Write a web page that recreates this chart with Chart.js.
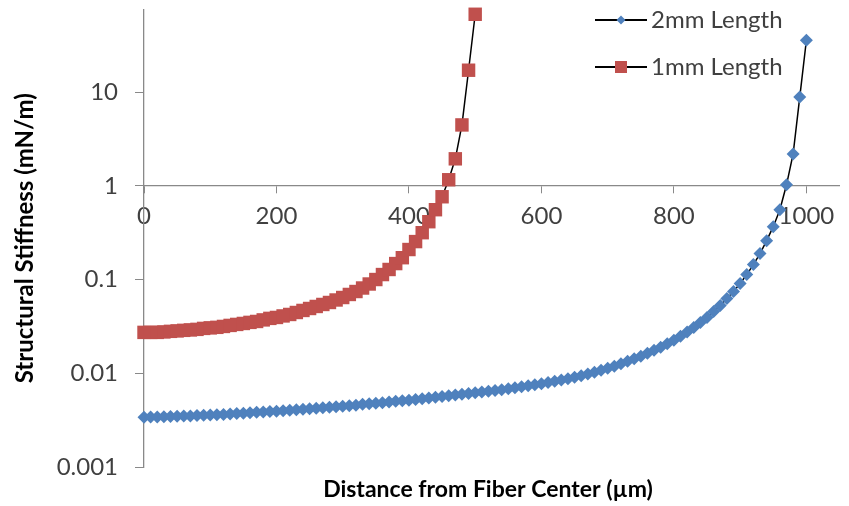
<!DOCTYPE html>
<html>
<head>
<meta charset="utf-8">
<script src="https://cdn.jsdelivr.net/npm/chart.js@4.4.0/dist/chart.umd.min.js"></script>
<style>
  html, body { margin: 0; padding: 0; background: #fff; }
  canvas { display: block; }
</style>
</head>
<body>
<canvas id="stiffnessChart" width="849" height="506"></canvas>
<script>
// Distances from fiber center (um)
const distance2mm = [
  0, 10, 20, 30, 40, 50, 60, 70, 80, 90,
  100, 110, 120, 130, 140, 150, 160, 170, 180, 190,
  200, 210, 220, 230, 240, 250, 260, 270, 280, 290,
  300, 310, 320, 330, 340, 350, 360, 370, 380, 390,
  400, 410, 420, 430, 440, 450, 460, 470, 480, 490,
  500, 510, 520, 530, 540, 550, 560, 570, 580, 590,
  600, 610, 620, 630, 640, 650, 660, 670, 680, 690,
  700, 710, 720, 730, 740, 750, 760, 770, 780, 790,
  800, 810, 820, 830, 840, 850, 860, 870, 880, 890,
  900, 910, 920, 930, 940, 950, 960, 970, 980, 990, 1000
];
const distance1mm = [
  0, 10, 20, 30, 40, 50, 60, 70, 80, 90,
  100, 110, 120, 130, 140, 150, 160, 170, 180, 190,
  200, 210, 220, 230, 240, 250, 260, 270, 280, 290,
  300, 310, 320, 330, 340, 350, 360, 370, 380, 390,
  400, 410, 420, 430, 440, 450, 460, 470, 480, 490, 500
];

// Structural stiffness (mN/m)
const stiffness2mm = [
  0.00340, 0.00341, 0.00342, 0.00344, 0.00345, 0.00347, 0.00349, 0.00351, 0.00354, 0.00356,
  0.00359, 0.00362, 0.00364, 0.00368, 0.00372, 0.00375, 0.00379, 0.00383, 0.00386, 0.00390,
  0.00394, 0.00399, 0.00404, 0.00409, 0.00414, 0.00419, 0.00424, 0.00429, 0.00435, 0.00440,
  0.00445, 0.00451, 0.00457, 0.00466, 0.00474, 0.00479, 0.00485, 0.00495, 0.00504, 0.00510,
  0.00516, 0.00526, 0.00535, 0.00546, 0.00555, 0.00566, 0.00576, 0.00588, 0.00598, 0.00610,
  0.00620, 0.00632, 0.00643, 0.00656, 0.00667, 0.00684, 0.00701, 0.00718, 0.00736, 0.00754,
  0.00773, 0.00798, 0.00822, 0.00846, 0.00874, 0.00906, 0.00941, 0.00981, 0.01025, 0.01076,
  0.01130, 0.01187, 0.01262, 0.01341, 0.01426, 0.01517, 0.01632, 0.01757, 0.01890, 0.02060,
  0.02244, 0.02475, 0.02764, 0.03086, 0.03486, 0.03941, 0.04565, 0.05288, 0.06279, 0.07455,
  0.0907, 0.1130, 0.1444, 0.1890, 0.2600, 0.3664, 0.5554, 1.025, 2.190, 8.849, 35.74
];
const stiffness1mm = [
  0.0273, 0.0273, 0.0273, 0.0276, 0.0280, 0.0283, 0.0287, 0.0290, 0.0294, 0.0301,
  0.0305, 0.0309, 0.0316, 0.0324, 0.0332, 0.0340, 0.0349, 0.0357, 0.0371, 0.0385,
  0.0394, 0.0409, 0.0424, 0.0445, 0.0468, 0.0491, 0.0516, 0.0542, 0.0569, 0.0605,
  0.0643, 0.0693, 0.0745, 0.0812, 0.0896, 0.100, 0.113, 0.128, 0.148, 0.171,
  0.209, 0.254, 0.316, 0.414, 0.556, 0.764, 1.16, 1.94, 4.46, 17.1, 67.6
];

const seriesNames = ['2mm Length', '1mm Length'];
const xTicks = [0, 200, 400, 600, 800, 1000];
const xTickLabels = ['0', '200', '400', '600', '800', '1000'];
const yTicks = [0.001, 0.01, 0.1, 1, 10];
const yTickLabels = ['0.001', '0.01', '0.1', '1', '10'];
const xTitle = 'Distance from Fiber Center (\u00b5m)';
const yTitle = 'Structural Stiffness (mN/m)';

const BLUE = '#4F81BD';
const RED = '#C0504D';
const AXIS = '#898989';
const LABEL = '#404040';

Chart.defaults.font.family = 'Lato, "Open Sans", sans-serif';

function toPoints(xs, ys) {
  return xs.map((x, i) => ({ x: x, y: ys[i] }));
}

// legend (line + marker like Excel) and x axis title
const excelExtras = {
  id: 'excelExtras',
  afterDraw(chart) {
    const ctx = chart.ctx;
    ctx.save();
    ctx.fillStyle = '#000';
    ctx.font = 'bold 23px Lato, sans-serif';
    ctx.textAlign = 'center';
    ctx.textBaseline = 'alphabetic';
    ctx.fillText(xTitle, 488, 497);

    chart.data.datasets.forEach((ds, i) => {
      const y = 20 + i * 47;
      ctx.strokeStyle = '#000';
      ctx.lineWidth = 2;
      ctx.beginPath();
      ctx.moveTo(595, y);
      ctx.lineTo(647, y);
      ctx.stroke();
      ctx.fillStyle = ds.backgroundColor;
      ctx.beginPath();
      if (ds.pointStyle === 'rectRot') {
        ctx.moveTo(621, y - 4.5);
        ctx.lineTo(625.5, y);
        ctx.lineTo(621, y + 4.5);
        ctx.lineTo(616.5, y);
        ctx.closePath();
      } else {
        ctx.rect(615, y - 6, 12, 12);
      }
      ctx.fill();
      ctx.fillStyle = LABEL;
      ctx.font = '24px Lato, sans-serif';
      ctx.textAlign = 'left';
      ctx.textBaseline = 'middle';
      ctx.fillText(ds.label, 651, y);
    });
    ctx.restore();
  }
};

const ctx = document.getElementById('stiffnessChart').getContext('2d');
const stiffnessChart = new Chart(ctx, {
  type: 'line',
  data: {
    datasets: [{
      label: seriesNames[0],
      data: toPoints(distance2mm, stiffness2mm),
      borderColor: '#000',
      borderWidth: 1.5,
      backgroundColor: BLUE,
      pointStyle: 'rectRot',
      pointRadius: 6.5,
      pointBorderWidth: 0,
      pointBackgroundColor: BLUE,
      tension: 0,
      clip: false
    }, {
      label: seriesNames[1],
      data: toPoints(distance1mm, stiffness1mm),
      borderColor: '#000',
      borderWidth: 1.5,
      backgroundColor: RED,
      pointStyle: 'rect',
      pointRadius: 9.5,
      pointBorderWidth: 0,
      pointBackgroundColor: RED,
      tension: 0,
      clip: false
    }]
  },
  options: {
    responsive: false,
    animation: false,
    layout: {
      padding: { top: 8, bottom: 39, left: 0, right: 0 }
    },
    plugins: {
      legend: { display: false },
      tooltip: { enabled: false }
    },
    scales: {
      x: {
        type: 'linear',
        position: { y: 1 },
        min: 0,
        max: 1050,
        afterBuildTicks: (scale) => {
          scale.ticks = xTicks.map(v => ({ value: v }));
        },
        afterFit: (scale) => {
          scale.paddingLeft = 0;
          scale.paddingRight = 0;
        },
        ticks: {
          color: LABEL,
          font: { size: 24 },
          padding: 9,
          maxRotation: 0,
          autoSkip: false,
          callback: (value, index) => xTickLabels[index]
        },
        grid: {
          drawOnChartArea: false,
          drawTicks: true,
          tickLength: 7,
          tickColor: AXIS,
          tickWidth: 1
        },
        border: { display: true, color: AXIS, width: 1.3 }
      },
      y: {
        type: 'logarithmic',
        position: 'left',
        min: 0.001,
        max: 76,
        afterBuildTicks: (scale) => {
          scale.ticks = yTicks.map(v => ({ value: v }));
        },
        afterFit: (scale) => {
          scale.width = 144;
          scale.paddingTop = 0;
          scale.paddingBottom = 0;
        },
        ticks: {
          color: LABEL,
          font: { size: 24 },
          padding: 17,
          autoSkip: false,
          callback: (value, index) => yTickLabels[index]
        },
        grid: {
          drawOnChartArea: false,
          drawTicks: true,
          tickLength: 9,
          tickColor: AXIS,
          tickWidth: 1
        },
        border: { display: true, color: AXIS, width: 1.3 },
        title: {
          display: true,
          text: yTitle,
          color: '#000',
          font: { size: 24, weight: 'bold' },
          padding: { top: 11, bottom: 0 }
        }
      }
    }
  },
  plugins: [excelExtras]
});
</script>
</body>
</html>
